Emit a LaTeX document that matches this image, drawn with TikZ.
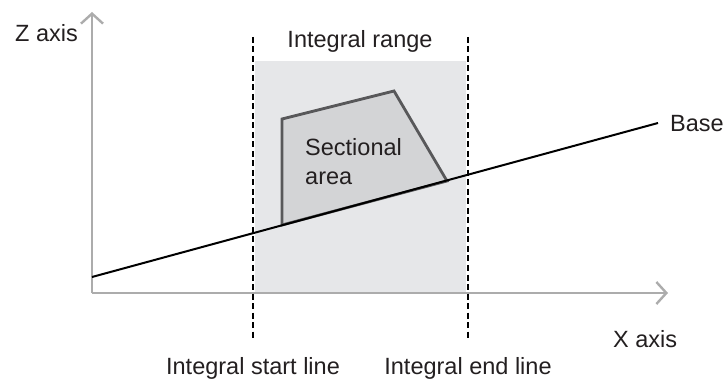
\documentclass[tikz,border=0pt]{standalone}
\usepackage{fontspec}
\setmainfont{Liberation Sans}
\usetikzlibrary{arrows.meta}
\definecolor{axisgray}{RGB}{172,172,172}
\definecolor{rangefill}{RGB}{230,231,233}
\definecolor{secfill}{RGB}{211,212,214}
\definecolor{secdraw}{RGB}{88,88,90}
\definecolor{txt}{RGB}{35,31,32}
\tikzset{
  lbl/.style={inner sep=0pt, text=txt, font=\fontsize{23.5}{29}\selectfont},
  axisline/.style={draw=axisgray, line width=2.4pt, -{Straight Barb[length=10pt,width=22pt,line width=2.4pt]}},
  dashline/.style={draw=black, line width=2pt, dash pattern=on 6pt off 3.5pt},
  baseline/.style={draw=black, line width=2pt},
  section/.style={draw=secdraw, fill=secfill, line width=2.8pt, line join=miter}
}
\begin{document}
\begin{tikzpicture}[x=1pt,y=-1pt]
\useasboundingbox (0,0) rectangle (725,379);
% integral range shading
\fill[rangefill] (255,61) rectangle (466,293);
% coordinates
\coordinate (O) at (92,293);
\coordinate (Ztop) at (92,12);
\coordinate (Xend) at (668,293);
\coordinate (B0) at (92,277);
\coordinate (B1) at (658,123);
\coordinate (P1) at (282,225);
\coordinate (P2) at (282,119);
\coordinate (P3) at (394,91);
\coordinate (P4) at (447,181);
\coordinate (S0) at (253,37);
\coordinate (S1) at (253,338);
\coordinate (E0) at (468,37);
\coordinate (E1) at (468,338);
% axes
\draw[axisline] (O) -- (Ztop);
\draw[axisline] (O) -- (Xend);
% sectional area
\draw[section] (P1) -- (P2) -- (P3) -- (P4) -- cycle;
% base line
\draw[baseline] (B0) -- (B1);
% dashed lines
\draw[dashline] (S0) -- (S1);
\draw[dashline] (E0) -- (E1);
% labels
\node[lbl, anchor=base west] (zlab) at (15,42) {Z axis};
\node[lbl, anchor=base] (rlab) at (360,48) {Integral range};
\node[lbl, anchor=base west, align=left] (slab) at (305,185) {Sectional\\area};
\node[lbl, anchor=base west] (blab) at (670,132) {Base};
\node[lbl, anchor=base west] (xlab) at (613,347) {X axis};
\node[lbl, anchor=base] (stlab) at (253,374) {Integral start line};
\node[lbl, anchor=base] (enlab) at (468,374) {Integral end line};
\end{tikzpicture}
\end{document}
